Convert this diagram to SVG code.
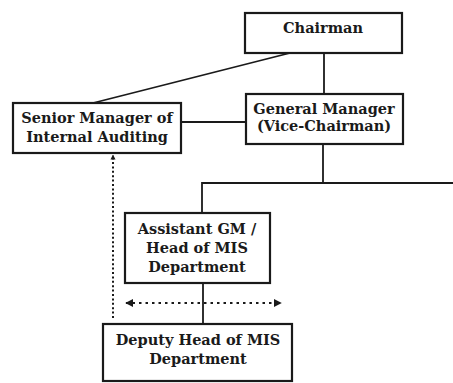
<svg xmlns="http://www.w3.org/2000/svg" width="453" height="383" viewBox="0 0 453 383">
  <style>
    .box { fill: #ffffff; stroke: #1a1a1a; stroke-width: 2.2; }
    .lbl { font-family: "DejaVu Serif", "Liberation Serif", serif; font-weight: bold; font-size: 14.5px; fill: #1a1a1a; text-anchor: middle; }
    .ln { stroke: #1a1a1a; stroke-width: 1.8; fill: none; }
    .dot { stroke: #1a1a1a; stroke-width: 2; fill: none; stroke-dasharray: 2 2.4; }
    .dash { stroke: #1a1a1a; stroke-width: 1.8; fill: none; stroke-dasharray: 2.5 4; }
  </style>
  <defs>
    <marker id="tri" viewBox="0 0 10 10" refX="9" refY="5" markerWidth="8" markerHeight="9" markerUnits="userSpaceOnUse" orient="auto-start-reverse">
      <path d="M0,0 L10,5 L0,10 Z" fill="#1a1a1a"/>
    </marker>
    <marker id="small" viewBox="0 0 10 10" refX="9" refY="5" markerWidth="5" markerHeight="6" markerUnits="userSpaceOnUse" orient="auto">
      <path d="M0,0 L10,5 L0,10 Z" fill="#1a1a1a"/>
    </marker>
  </defs>
  <rect width="453" height="383" fill="#ffffff"/>

  <g id="connectors">
    <line class="ln" x1="324" y1="53" x2="324" y2="94"/>
    <line class="ln" x1="290" y1="53" x2="93" y2="103"/>
    <line class="ln" x1="181" y1="122" x2="246" y2="122"/>
    <line class="ln" x1="323" y1="144" x2="323" y2="183"/>
    <polyline class="ln" points="202,213 202,183 453,183"/>
    <line class="ln" x1="203" y1="283" x2="203" y2="324"/>
    <line class="dot" x1="113" y1="318" x2="113" y2="155" marker-end="url(#small)"/>
    <line class="dash" x1="126" y1="303" x2="281" y2="303" marker-start="url(#tri)" marker-end="url(#tri)"/>
  </g>

  <g id="chairman">
    <rect class="box" x="245" y="13" width="157" height="40"/>
    <text class="lbl" x="323" y="33">Chairman</text>
  </g>

  <g id="general-manager">
    <rect class="box" x="246" y="94" width="157" height="50"/>
    <text class="lbl" x="324" y="114">General Manager</text>
    <text class="lbl" x="324" y="131">(Vice-Chairman)</text>
  </g>

  <g id="senior-manager">
    <rect class="box" x="13" y="103" width="168" height="50"/>
    <text class="lbl" x="97" y="123">Senior Manager of</text>
    <text class="lbl" x="97" y="142">Internal Auditing</text>
  </g>

  <g id="assistant-gm">
    <rect class="box" x="125" y="213" width="145" height="70"/>
    <text class="lbl" x="197" y="234">Assistant GM /</text>
    <text class="lbl" x="197" y="253">Head of MIS</text>
    <text class="lbl" x="197" y="272">Department</text>
  </g>

  <g id="deputy-head">
    <rect class="box" x="103" y="324" width="189" height="57"/>
    <text class="lbl" x="198" y="345">Deputy Head of MIS</text>
    <text class="lbl" x="198" y="364">Department</text>
  </g>
</svg>
